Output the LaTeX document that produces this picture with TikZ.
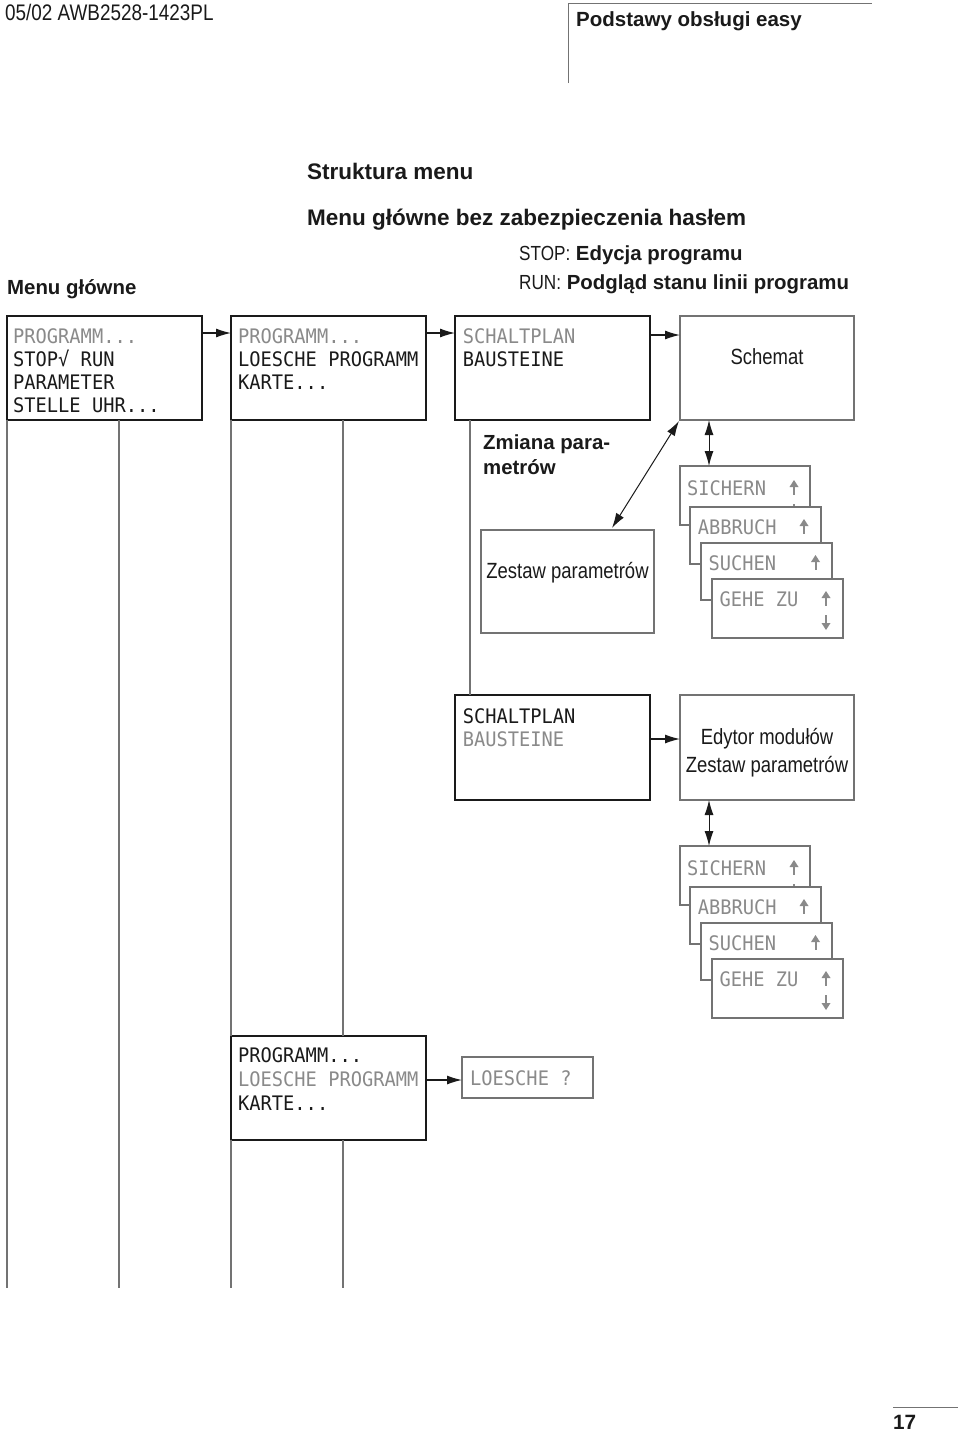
\documentclass[tikz,border=0pt]{standalone}
\usepackage{fontspec}
\setmainfont{Liberation Sans}
\newfontfamily\regf[FakeStretch=0.84]{Liberation Sans}
\newfontfamily\lcdf[FakeStretch=0.935]{DejaVu Sans Mono}
\usetikzlibrary{arrows.meta}
\definecolor{ink}{HTML}{1A1A1A}
\definecolor{lcdgrey}{HTML}{8A8A8A}
\definecolor{linegrey}{HTML}{737373}
\newcommand{\lcdUp}[2]{%
  \fill[lcdgrey] (#1,#2-15) -- (#1+4.5,#2-8) -- (#1-4.5,#2-8) -- cycle;
  \fill[lcdgrey] (#1-1,#2-8) rectangle (#1+1,#2);}
\newcommand{\lcdDown}[2]{%
  \fill[lcdgrey] (#1,#2) -- (#1+4.5,#2-7) -- (#1-4.5,#2-7) -- cycle;
  \fill[lcdgrey] (#1-1,#2-15) rectangle (#1+1,#2-7);}
\begin{document}
\begin{tikzpicture}[x=1pt,y=-1pt,
  lcdbox/.style={draw=ink,line width=2pt,fill=white,anchor=north west,inner sep=0pt,outer sep=0pt},
  plainbox/.style={draw=linegrey,line width=1.3pt,fill=white,anchor=north west,inner sep=0pt,outer sep=0pt},
  stackbox/.style={plainbox,minimum width=131pt,minimum height=58pt},
  lcdon/.style={anchor=base west,inner sep=0pt,text=ink,font=\lcdf\fontsize{20}{24}\selectfont},
  lcdoff/.style={lcdon,text=lcdgrey},
  conn/.style={draw=linegrey,line width=1.4pt},
  arr/.style={draw=ink,line width=1.2pt,-{Latex[length=15pt,width=9pt]}},
  dbl/.style={draw=ink,line width=1pt,{Latex[length=15pt,width=9pt]}-{Latex[length=15pt,width=9pt]}},
  hb/.style={anchor=base west,inner sep=0pt,text=ink,font=\bfseries\fontsize{22.5}{26}\selectfont},
  sb/.style={anchor=base west,inner sep=0pt,text=ink,font=\bfseries\fontsize{20.4}{24}\selectfont},
  rt/.style={anchor=base,inner sep=0pt,text=ink,font=\regf\fontsize{22}{26}\selectfont},
]
\useasboundingbox[fill=white] (0,0) rectangle (960,1432);

% page header and footer
\node[anchor=base west,inner sep=0pt,text=ink,font=\regf\fontsize{22.5}{26}\selectfont] (hdr) at (5,20) {05/02 AWB2528-1423PL};
\node[anchor=base west,inner sep=0pt,text=ink,font=\bfseries\fontsize{20.5}{24}\selectfont] (ttl) at (576,27) {Podstawy obsługi easy};
\coordinate (h1) at (568,83);
\coordinate (h2) at (568,3);
\coordinate (h3) at (872,3);
\draw[draw=linegrey,line width=1pt] (h1) -- (h2) -- (h3);
\node[anchor=base west,inner sep=0pt,text=ink,font=\bfseries\fontsize{20.7}{24}\selectfont] (pg) at (893,1429) {17};
\coordinate (p1) at (893,1407);
\coordinate (p2) at (958,1407);
\draw[draw=linegrey,line width=1pt] (p1) -- (p2);

% headings
\node[hb] (tstr) at (307,179.5) {Struktura menu};
\node[hb] (tmen) at (307,225) {Menu główne bez zabezpieczenia hasłem};
\node[anchor=base west,inner sep=0pt,text=ink,font=\fontsize{20.4}{24}\selectfont] (tstop) at (519,260) {{\regf STOP:} \textbf{Edycja programu}};
\node[anchor=base west,inner sep=0pt,text=ink,font=\fontsize{20.4}{24}\selectfont] (trun) at (519,289) {{\regf RUN:} \textbf{Podgląd stanu linii programu}};
\node[sb] (tmain) at (7,294.3) {Menu główne};

% main boxes
\node[lcdbox,minimum width=195pt,minimum height=104pt] (m1) at (7,316) {};
\node[lcdbox,minimum width=195pt,minimum height=104pt] (m2) at (231,316) {};
\node[lcdbox,minimum width=195pt,minimum height=104pt] (s1) at (455,316) {};
\node[plainbox,minimum width=174pt,minimum height=104pt] (sch) at (680,316) {};
\node[plainbox,minimum width=173pt,minimum height=103pt] (zp) at (481,530) {};
\node[lcdbox,minimum width=195pt,minimum height=105pt] (s2) at (455,695) {};
\node[plainbox,minimum width=174pt,minimum height=105pt] (ed) at (680,695) {};
\node[lcdbox,minimum width=195pt,minimum height=104pt] (m3) at (231,1036) {};
\node[plainbox,minimum width=131pt,minimum height=41pt] (lq) at (462,1057) {};

% LCD texts
\node[lcdoff] (m1a) at (13,343.3) {PROGRAMM...};
\node[lcdon] (m1b) at (13,366) {STOP√ RUN};
\node[lcdon] (m1c) at (13,389) {PARAMETER};
\node[lcdon] (m1d) at (13,412.3) {STELLE UHR...};
\node[lcdoff] (m2a) at (238,343.3) {PROGRAMM...};
\node[lcdon] (m2b) at (238,366) {LOESCHE PROGRAMM};
\node[lcdon] (m2c) at (238,389) {KARTE...};
\node[lcdoff] (s1a) at (462.7,343.3) {SCHALTPLAN};
\node[lcdon] (s1b) at (462.7,366) {BAUSTEINE};
\node[lcdon] (s2a) at (462.7,723.3) {SCHALTPLAN};
\node[lcdoff] (s2b) at (462.7,746) {BAUSTEINE};
\node[lcdon] (m3a) at (238,1062.3) {PROGRAMM...};
\node[lcdoff] (m3b) at (238,1086.7) {LOESCHE PROGRAMM};
\node[lcdon] (m3c) at (238,1110) {KARTE...};
\node[lcdoff] (lqa) at (470,1085) {LOESCHE ?};

% plain texts
\node[rt] (schT) at (767,364) {Schemat};
\node[rt] (zpT) at (567.5,578) {Zestaw parametrów};
\node[rt] (edT1) at (767,744) {Edytor modułów};
\node[rt] (edT2) at (767,772) {Zestaw parametrów};
\node[sb] (zm1) at (483,449.3) {Zmiana para-};
\node[sb] (zm2) at (483,474.3) {metrów};

% stacked dialogue boxes
\foreach \dy/\p in {0/a,380/b}{
  \node[stackbox,minimum width=130pt,minimum height=59pt] (k1\p) at (680,466+\dy) {};
  \node[lcdoff] (k1t\p) at (687,495+\dy) {SICHERN};
  \lcdUp{794}{495+\dy}
  \lcdDown{794}{519+\dy}
  \node[stackbox,minimum height=57pt] (k2\p) at (690,507+\dy) {};
  \node[lcdoff] (k2t\p) at (697.7,534+\dy) {ABBRUCH};
  \lcdUp{804}{534+\dy}
  \lcdDown{804}{558+\dy}
  \node[stackbox,minimum height=57pt] (k3\p) at (701,543+\dy) {};
  \node[lcdoff] (k3t\p) at (708.3,570+\dy) {SUCHEN};
  \lcdUp{815.5}{570+\dy}
  \lcdDown{815.5}{594+\dy}
  \node[stackbox,minimum height=59pt] (k4\p) at (712,579+\dy) {};
  \node[lcdoff] (k4t\p) at (719.3,606+\dy) {GEHE ZU};
  \lcdUp{826}{606+\dy}
  \lcdDown{826}{630+\dy}
}

% connector lines
\coordinate (e1) at (7,1288);
\coordinate (e2) at (119,1288);
\coordinate (e3) at (231,1288);
\coordinate (e4) at (343,1288);
\draw[conn] (m1.south west) -- (e1);
\draw[conn] ([xshift=112pt]m1.south west) -- (e2);
\draw[conn] (m2.south west) -- (m3.north west);
\draw[conn] ([xshift=112pt]m2.south west) -- ([xshift=112pt]m3.north west);
\draw[conn] (m3.south west) -- (e3);
\draw[conn] ([xshift=112pt]m3.south west) -- (e4);
\draw[conn] ([xshift=15pt]s1.south west) -- ([xshift=15pt]s2.north west);

% arrows
\draw[arr] ([yshift=-17pt]m1.north east) -- ([yshift=-17pt]m2.north west);
\draw[arr] ([yshift=-17pt]m2.north east) -- ([yshift=-17pt]s1.north west);
\draw[arr] ([yshift=-19pt]s1.north east) -- ([yshift=-19pt]sch.north west);
\draw[arr] ([yshift=-44pt]s2.north east) -- ([yshift=-44pt]ed.north west);
\draw[arr] ([yshift=-44pt]m3.north east) -- ([yshift=-23pt]lq.north west);
\draw[dbl] ([xshift=-1pt,yshift=-1pt]sch.south west) -- ([xshift=131pt,yshift=2pt]zp.north west);
\draw[dbl] ([xshift=29pt]sch.south west) -- ([xshift=29pt]k1a.north west);
\draw[dbl] ([xshift=29pt]ed.south west) -- ([xshift=29pt]k1b.north west);
\end{tikzpicture}
\end{document}
